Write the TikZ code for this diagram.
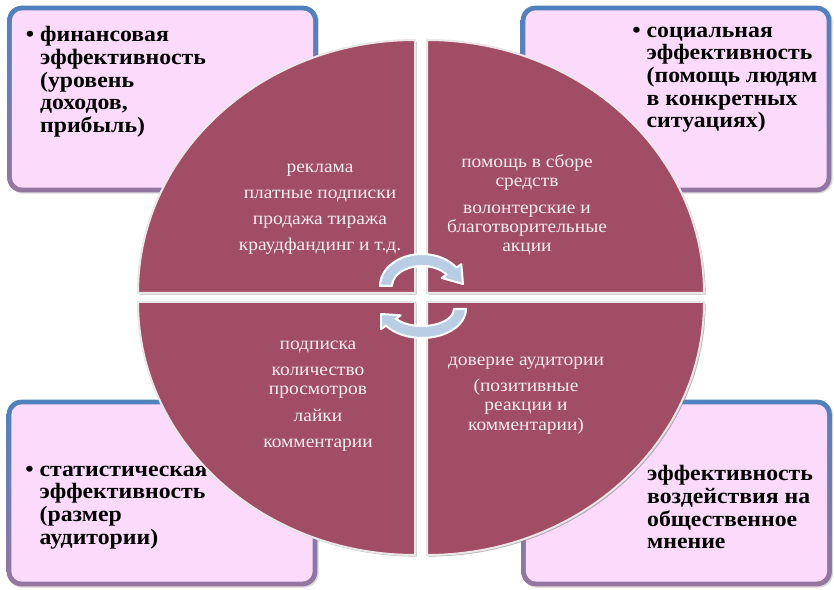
\documentclass[tikz,border=0pt]{standalone}
\usepackage{fontspec}
\setmainfont{Liberation Serif}[FakeStretch=1.08]
\usetikzlibrary{calc,shadows}
\definecolor{quadfill}{RGB}{162,77,102}
\definecolor{quadrim}{RGB}{236,230,233}
\definecolor{quadtext}{RGB}{246,238,242}
\definecolor{boxfill}{RGB}{252,218,252}
\definecolor{rimtop}{RGB}{79,129,189}
\definecolor{rimbot}{RGB}{150,118,160}
\definecolor{cycfill}{RGB}{185,205,228}
\newcommand{\itembul}{\llap{\textbullet\hspace{4.5pt}}}

\begin{document}
\begin{tikzpicture}[
  x=0.75pt, y=0.75pt,
  box/.style={rounded corners=11pt, minimum width=233pt, minimum height=140pt, inner sep=0pt,
    top color=rimtop, bottom color=rimbot,
    drop shadow={shadow xshift=1pt, shadow yshift=-1pt, opacity=.3},
    path picture={\fill[boxfill, rounded corners=8pt]
      ([shift={(3.5pt,3.5pt)}]path picture bounding box.south west) rectangle
      ([shift={(-3.5pt,-3.5pt)}]path picture bounding box.north east);}},
  btext/.style={anchor=north west, align=left, inner sep=0pt,
    font=\fontsize{16.5}{17}\selectfont\bfseries},
  quad/.style={fill=quadfill, draw=quadrim, line width=1.5pt,
    drop shadow={shadow xshift=1.2pt, shadow yshift=-1.2pt, opacity=.55}},
  qtext/.style={text=quadtext, align=center, inner sep=0pt,
    font=\fontsize{13.5}{14.6}\selectfont},
  cyc/.style={fill=cycfill, draw=white, line width=1.5pt, line join=round},
]
\fill[white] (0,0) rectangle (834,589);
\useasboundingbox (0,0) rectangle (834,589);

\node[box] (fin) at (162.5,490) {};
\node[box] (soc) at (676,490) {};
\node[box] (stat) at (162,96) {};
\node[box] (opin) at (676.5,96) {};

\node[btext] (fintext) at ([shift={(33,-21)}]fin.north west)
  {\itembul финансовая\\эффективность\\(уровень\\доходов,\\прибыль)};
\node[btext] (soctext) at ([shift={(126,-21)}]soc.north west)
  {\itembul социальная\\эффективность\\(помощь людям\\в конкретных\\ситуациях)};
\node[btext] (stattext) at ([shift={(33,-66)}]stat.north west)
  {\itembul статистическая\\эффективность\\(размер\\аудитории)};
\node[btext] (opintext) at ([shift={(126,-66)}]opin.north west)
  {эффективность\\воздействия на\\общественное\\мнение};

\coordinate (c) at (421,291.5);
\foreach \dx/\dy/\a in {-6/4.5/90, 6/4.5/0, 6/-4.5/-90, -6/-4.5/180}
  \draw[quad] ($(c)+(\dx,\dy)$) -- ++(\a:277 and 253)
    arc[start angle=\a, delta angle=90, x radius=277, y radius=253] -- cycle;

\node[qtext] (finitems) at (320,380)
  {реклама\\[5pt]платные подписки\\[5pt]продажа тиража\\[5pt]краудфандинг и т.д.};
\node[qtext] (socitems) at (527,384)
  {помощь в сборе\\средств\\[5pt]волонтерские и\\благотворительные\\акции};
\node[qtext] (statitems) at (318,193)
  {подписка\\[5pt]количество\\просмотров\\[5pt]лайки\\[5pt]комментарии};
\node[qtext] (opinitems) at (526,193.5)
  {доверие аудитории\\[5pt](позитивные\\реакции и\\комментарии)};

\coordinate (ua) at (422,303);
\coordinate (la) at (422,280);
\filldraw[cyc] ($(ua)+(180:42 and 32)$)
  arc[start angle=180, end angle=35, x radius=42, y radius=32]
  -- ($(ua)+(35:48 and 38)$) -- ($(ua)+(41,2)$) -- ($(ua)+(35:24 and 14)$)
  -- ($(ua)+(35:30 and 20)$)
  arc[start angle=35, end angle=180, x radius=30, y radius=20] -- cycle;
\filldraw[cyc] ($(la)+(0:44 and 29)$)
  arc[start angle=0, end angle=-145, x radius=44, y radius=29]
  -- ($(la)+(-145:50 and 35)$) -- ($(la)+(-41,-5)$) -- ($(la)+(-145:26 and 11)$)
  -- ($(la)+(-145:32 and 17)$)
  arc[start angle=-145, end angle=0, x radius=32, y radius=17] -- cycle;
\end{tikzpicture}
\end{document}
